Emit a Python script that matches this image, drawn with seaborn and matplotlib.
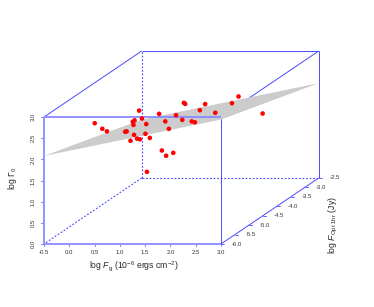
import numpy as np
import pandas as pd
import matplotlib
matplotlib.use("Agg")
import matplotlib.pyplot as plt
import seaborn as sns

sns.set_style("white")
plt.rcParams["font.family"] = ["Liberation Sans", "DejaVu Sans"]
plt.rcParams["mathtext.fontset"] = "custom"
plt.rcParams["mathtext.rm"] = "Liberation Sans"
plt.rcParams["mathtext.it"] = "Liberation Sans:italic"

# data: log Fg, log F_opt(1hr), log Gamma0
log_fg = [-0.38, -0.34, -0.36, 0.25, 0.23, 1.10, -0.40, -0.42, -0.26, 0.96,
          1.23, 1.23, -0.44, -0.44, 0.23, 1.34, 1.51, 1.48, -0.10, 1.72,
          1.86, 1.89, 0.75, 1.82, 0.51, 1.34, 0.39, 0.47, 1.92, 2.18,
          0.97, 0.81, 1.97, 1.56, 1.47, 2.94]
log_fopt = [-4.40, -4.20, -4.00, -4.45, -4.36, -5.80, -3.00, -2.90, -3.23, -5.42,
            -5.80, -5.70, -2.70, -2.60, -3.66, -5.70, -5.85, -5.90, -2.60, -5.80,
            -5.90, -5.70, -3.92, -5.73, -3.10, -4.38, -2.60, -2.70, -5.09, -5.45,
            -3.08, -2.60, -4.34, -3.00, -2.60, -4.40]
log_gamma = [2.14, 1.92, 1.77, 1.96, 1.93, 2.35, 1.55, 1.54, 1.58, 2.32,
             2.40, 2.34, 1.68, 1.45, 1.79, 2.47, 2.44, 1.66, 1.56, 2.12,
             2.04, 2.02, 1.97, 2.60, 1.75, 2.21, 1.82, 1.84, 2.49, 2.63,
             1.86, 1.79, 2.36, 1.99, 1.97, 2.37]

# fitted plane: log Gamma0 at the four corners (x, depth)
plane_x = [-0.5, 3.0, 3.0, -0.5]
plane_d = [-6.0, -6.0, -2.5, -2.5]
plane_z = [2.08, 2.94, 2.24, 1.38]

x_ticks = [-0.5, 0.0, 0.5, 1.0, 1.5, 2.0, 2.5, 3.0]
z_ticks = [0.0, 0.5, 1.0, 1.5, 2.0, 2.5, 3.0]
d_ticks = [-6.0, -5.5, -5.0, -4.5, -4.0, -3.5, -3.0, -2.5]

xlo, xhi = -0.5, 3.0
zlo, zhi = 0.0, 3.0
dlo, dhi = -6.0, -2.5
# oblique projection (scatterplot3d style)
kx, kz = 0.552, 0.4456


def proj(x, d, z):
    x = np.asarray(x, float); d = np.asarray(d, float); z = np.asarray(z, float)
    return x + kx * (d - dlo), z + kz * (d - dlo)


fig = plt.figure(figsize=(3.74, 3.07), dpi=100)
ax = fig.add_axes([44 / 374, 63 / 307, 274.7 / 374, 193 / 307])
ax.set_xlim(xlo, xhi + kx * (dhi - dlo))
ax.set_ylim(zlo, zhi + kz * (dhi - dlo))
ax.axis("off")

front = "#8a8aff"
back = "#4a4aff"


def seg(p, q, **kw):
    u, v = proj([p[0], q[0]], [p[1], q[1]], [p[2], q[2]])
    ax.plot(u, v, clip_on=False, solid_capstyle="butt", **kw)


# hidden edges
dash = dict(color=back, lw=0.8, ls=(0, (1.6, 1.6)))
seg((xlo, dhi, zlo), (xlo, dlo, zlo), **dash)
seg((xlo, dhi, zlo), (xhi, dhi, zlo), **dash)
seg((xlo, dhi, zlo), (xlo, dhi, zhi), **dash)

# back / side edges
thin = dict(color=back, lw=0.7)
seg((xlo, dlo, zhi), (xlo, dhi, zhi), **thin)
seg((xhi, dlo, zhi), (xhi, dhi, zhi), **thin)
seg((xlo, dhi, zhi), (xhi, dhi, zhi), **thin)
seg((xhi, dhi, zlo), (xhi, dhi, zhi), **thin)
seg((xhi, dlo, zlo), (xhi, dhi, zlo), **thin)
seg((xhi, dlo, zlo), (xhi, dlo, zhi), **thin)

# plane
pu, pv = proj(plane_x, plane_d, plane_z)
ax.fill(pu, pv, color="#cccccc", lw=0, zorder=2)

# front face
thick = dict(color=front, lw=1.3, zorder=3)
seg((xlo, dlo, zlo), (xhi, dlo, zlo), **thick)
seg((xlo, dlo, zlo), (xlo, dlo, zhi), **thick)
seg((xlo, dlo, zhi), (xhi, dlo, zhi), **thick)

# points
pts_u, pts_v = proj(log_fg, log_fopt, log_gamma)
df = pd.DataFrame({"u": pts_u, "v": pts_v})
sns.scatterplot(data=df, x="u", y="v", ax=ax, color="red", s=11,
                edgecolor="none", zorder=4, clip_on=False)
ax.set_xlabel("")
ax.set_ylabel("")
ax.axis("off")

tick_col = "#333333"
fs = 4.3
# x axis ticks
for t in x_ticks:
    u, v = proj([t, t], [dlo, dlo], [zlo, zlo])
    ax.plot([u[0], u[0]], [0, -0.05], color=front, lw=0.8, clip_on=False)
    ax.text(u[0], -0.2, f"{t:.1f}", ha="center", va="center", fontsize=fs,
            color=tick_col)
# z axis ticks
for t in z_ticks:
    ax.plot([xlo, xlo - 0.06], [t, t], color=front, lw=0.8, clip_on=False)
    ax.text(xlo - 0.22, t, f"{t:.1f}", ha="center", va="center", fontsize=fs,
            rotation=90, color=tick_col)
# depth ticks
for t in d_ticks:
    u, v = proj([xhi], [t], [zlo])
    ax.plot([u[0], u[0] + 0.06], [v[0], v[0]], color=back, lw=0.6, clip_on=False)
    ax.text(u[0] + 0.32, v[0], f"{t:.1f}", ha="center", va="center",
            fontsize=fs, color=tick_col)

ax.text(1.27, -0.52, r"log $F_{\rm g}$ (10$^{-6}$ ergs cm$^{-2}$)",
        ha="center", va="center", fontsize=6.2)
ax.text(xlo - 0.63, 1.55, r"log $\Gamma_0$", ha="center", va="center",
        fontsize=6.2, rotation=90)
ax.text(xhi + kx * 3.5 + 0.3, 0.45, r"log $F_{\rm Opt\ 1hr}$ (Jy)",
        ha="center", va="center", fontsize=6.2, rotation=90)

fig.savefig("out.png", dpi=100)
